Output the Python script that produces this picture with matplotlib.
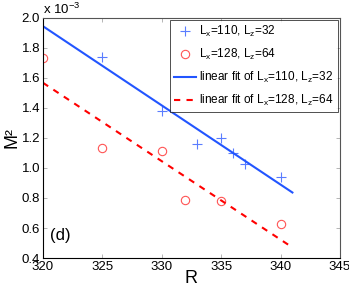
import numpy as np
import matplotlib
matplotlib.use("Agg")
import matplotlib.pyplot as plt
from matplotlib.ticker import FixedFormatter

plt.rcParams['font.family'] = ['Liberation Sans', 'DejaVu Sans']
plt.rcParams['mathtext.fontset'] = 'custom'
plt.rcParams['mathtext.rm'] = 'Liberation Sans'
plt.rcParams['mathtext.it'] = 'Liberation Sans'

# data (M^2 in units of 1e-3)
R_a = [325, 330, 333, 335, 336, 337, 340]
M2_a = [1.74, 1.38, 1.16, 1.20, 1.10, 1.027, 0.94]
R_b = [320, 325, 330, 332, 335, 340]
M2_b = [1.73, 1.13, 1.11, 0.787, 0.78, 0.63]
fit_range = [320, 341]
x_ticks = [320, 325, 330, 335, 340, 345]
y_ticks = [0.4, 0.6, 0.8, 1.0, 1.2, 1.4, 1.6, 1.8, 2.0]

label_a = r'L$_x$=110, L$_z$=32'
label_b = r'L$_x$=128, L$_z$=64'

fig = plt.figure(figsize=(3.49, 2.88), dpi=100)
ax = fig.add_axes([0.123, 0.104, 0.851, 0.834])

ya = np.array(M2_a) * 1e-3
yb = np.array(M2_b) * 1e-3
ax.plot(R_a, ya, '+', color='#5a7dff', ms=7, mew=0.8, label=label_a)
ax.plot(R_b, yb, 'o', color='#ff5555', mfc='none', ms=6, mew=0.8, label=label_b)

xf = np.array(fit_range, dtype=float)
pa = np.polyfit(R_a, ya, 1)
pb = np.polyfit(R_b, yb, 1)
ax.plot(xf, np.polyval(pa, xf), '-', color='#2255ff', lw=1.5,
        label='linear fit of ' + label_a)
ax.plot(xf, np.polyval(pb, xf), '--', color='#ff0000', lw=1.5, dashes=(3, 3),
        label='linear fit of ' + label_b)

ax.set_xlim(320, 345)
ax.set_ylim(0.4e-3, 2.0e-3)
ax.set_xticks(x_ticks)
ax.set_yticks([v * 1e-3 for v in y_ticks])
ax.yaxis.set_major_formatter(FixedFormatter([f'{v:.1f}' for v in y_ticks]))
ax.text(0.0, 1.005, r'x 10$^{-3}$', transform=ax.transAxes, fontsize=9.5,
        ha='left', va='bottom')

ax.tick_params(direction='in', top=True, right=True, labelsize=9.5, length=3,
               width=0.6, color='#aaaaaa', pad=2)
for s in ax.spines.values():
    s.set_linewidth(0.8)
    s.set_color('#555555')
ax.spines['left'].set_color('black')
ax.spines['bottom'].set_color('black')

ax.set_xlabel('R', fontsize=13, labelpad=-2)
ax.set_ylabel('M²', fontsize=13, labelpad=1)
ax.text(320.6, 0.52e-3, '(d)', fontsize=12)

leg = ax.legend(loc='upper right', fontsize=8.5, frameon=True, fancybox=False,
                edgecolor='black', borderaxespad=0.2, handlelength=1.9,
                handletextpad=0.25, labelspacing=0.65, borderpad=0.35)
leg.get_frame().set_linewidth(0.6)

fig.savefig('out.png', dpi=100)
